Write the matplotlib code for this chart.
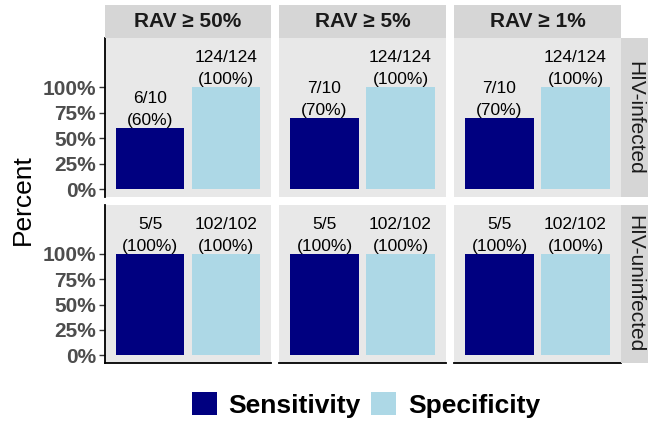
import numpy as np
import matplotlib
matplotlib.use("Agg")
import matplotlib.pyplot as plt
from matplotlib.patches import Patch

plt.rcParams['font.family'] = ['Liberation Sans', 'DejaVu Sans']

thresholds = ["RAV \u2265 50%", "RAV \u2265 5%", "RAV \u2265 1%"]
groups = ["HIV-infected", "HIV-uninfected"]
measures = ["Sensitivity", "Specificity"]

# true positives / negatives per group and threshold
sens_hits = [[6, 7, 7], [5, 5, 5]]
sens_total = [10, 5]
spec_hits = [[124, 124, 124], [102, 102, 102]]
spec_total = [124, 102]

colors = ["#000080", "#add8e6"]
yticks = [0, 0.25, 0.5, 0.75, 1.0]
ytick_labels = ["0%", "25%", "50%", "75%", "100%"]

W, H = 648, 423
fig = plt.figure(figsize=(W / 100, H / 100), dpi=100)


def box(x0, y0, x1, y1):
    # pixel box (from top-left) -> figure fraction rect
    return [x0 / W, 1 - y1 / H, (x1 - x0) / W, (y1 - y0) / H]


col_x = [(105, 271), (279, 446), (454, 621)]
row_y = [(38, 197), (205, 363)]
strip_top = (5, 38)
strip_right = (621, 648)

panel_bg = "#e8e8e8"
strip_bg = "#d6d6d6"

for r, grp in enumerate(groups):
    for c, thr in enumerate(thresholds):
        ax = fig.add_axes(box(col_x[c][0], row_y[r][0], col_x[c][1], row_y[r][1]))
        ax.set_facecolor(panel_bg)
        hits = [sens_hits[r][c], spec_hits[r][c]]
        totals = [sens_total[r], spec_total[r]]
        vals = [h / t for h, t in zip(hits, totals)]
        xs = [1, 2]
        ax.bar(xs, vals, width=0.9, color=colors)
        for x, h, t, v in zip(xs, hits, totals, vals):
            ax.text(x, v, f"{h}/{t}\n({v * 100:.0f}%)", ha="center", va="bottom",
                    fontsize=12.5, color="black", linespacing=1.55)
        ax.set_xlim(0.4, 2.6)
        ax.set_ylim(-0.075, 1.48)
        ax.set_xticks([])
        for s in ax.spines.values():
            s.set_visible(False)
        if c == 0:
            ax.spines["left"].set_visible(True)
            ax.spines["left"].set_linewidth(1.3)
            ax.set_yticks(yticks)
            ax.set_yticklabels(ytick_labels, fontsize=15, fontweight="bold", color="#4d4d4d")
            ax.tick_params(axis="y", length=4.5, width=1, color="#333333", pad=2)
        else:
            ax.set_yticks([])
        if r == 1:
            ax.spines["bottom"].set_visible(True)
            ax.spines["bottom"].set_linewidth(1.3)

# column strips
for c, thr in enumerate(thresholds):
    sax = fig.add_axes(box(col_x[c][0], strip_top[0], col_x[c][1], strip_top[1]))
    sax.set_facecolor(strip_bg)
    sax.set_xticks([])
    sax.set_yticks([])
    for s in sax.spines.values():
        s.set_visible(False)
    sax.text(0.5, 0.5, thr, transform=sax.transAxes, ha="center", va="center",
             fontsize=15, fontweight="bold", color="#1a1a1a")

# row strips
for r, grp in enumerate(groups):
    sax = fig.add_axes(box(strip_right[0], row_y[r][0], strip_right[1], row_y[r][1]))
    sax.set_facecolor(strip_bg)
    sax.set_xticks([])
    sax.set_yticks([])
    for s in sax.spines.values():
        s.set_visible(False)
    sax.text(0.5, 0.5, grp, transform=sax.transAxes, ha="center", va="center",
             rotation=-90, fontsize=15, color="#1a1a1a")

fig.text(23 / W, 1 - 200 / H, "Percent", rotation=90, ha="center", va="center",
         fontsize=19, color="black")

handles = [Patch(facecolor=col, edgecolor="none", label=m) for col, m in zip(colors, measures)]
fig.legend(handles=handles, loc="center", bbox_to_anchor=(366 / W, 1 - 405 / H), ncol=2,
           frameon=False, prop={"size": 19, "weight": "bold"}, handlelength=0.95,
           handleheight=0.95, handletextpad=0.45, columnspacing=0.4, borderpad=0)

fig.savefig("out.png", dpi=100)
